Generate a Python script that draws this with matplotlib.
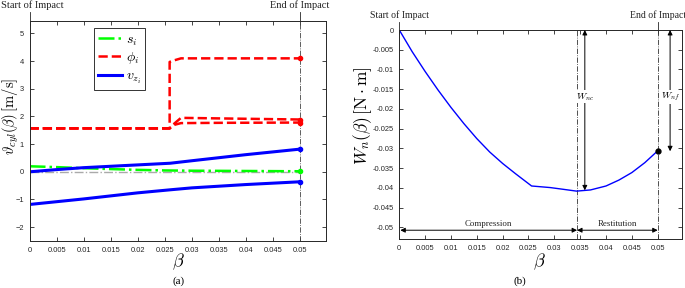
import numpy as np
import matplotlib
matplotlib.use('Agg')
import matplotlib.pyplot as plt
from matplotlib.lines import Line2D

plt.rcParams['mathtext.fontset'] = 'cm'
plt.rcParams['font.family'] = ['Liberation Sans', 'DejaVu Sans']

# Panel (a) data: velocities vs beta
beta_vz = [0, 0.005, 0.01, 0.015, 0.02, 0.026, 0.03, 0.035, 0.04, 0.045, 0.05]
vz_upper = [0, 0.08, 0.15, 0.2, 0.25, 0.31, 0.4, 0.51, 0.62, 0.72, 0.82]
vz_lower = [-1.18, -1.08, -0.98, -0.87, -0.76, -0.65, -0.58, -0.52, -0.46, -0.41, -0.36]

beta_s = [0, 0.005, 0.01, 0.015, 0.02, 0.025, 0.03, 0.04, 0.05]
s_i = [0.2, 0.17, 0.13, 0.1, 0.07, 0.05, 0.04, 0.03, 0.02]

beta_phi_top = [0, 0.0259, 0.0259, 0.0266, 0.028, 0.05]
phi_top = [1.57, 1.57, 3.97, 4.02, 4.1, 4.1]
beta_phi_low = [0, 0.0259, 0.0268, 0.028, 0.035, 0.05]
phi_mid = [1.57, 1.57, 1.75, 1.95, 1.93, 1.89]
phi_low = [1.57, 1.57, 1.70, 1.76, 1.77, 1.78]

# Panel (b) data: normal work vs beta
beta_w = [0, 0.0025, 0.005, 0.0075, 0.01, 0.0125, 0.015, 0.0175, 0.02, 0.0225,
          0.0256, 0.0292, 0.0315, 0.0343, 0.037, 0.04, 0.0425, 0.045, 0.0475, 0.05]
w_n = [0, -0.0055, -0.0105, -0.0152, -0.0196, -0.0237, -0.0275, -0.0309, -0.0338, -0.0364,
       -0.0395, -0.0399, -0.0403, -0.0408, -0.0405, -0.0395, -0.0380, -0.0361, -0.0336, -0.0306]

beta_c = 0.0344      # end of compression
beta_end = 0.05      # end of impact
w_nc = -0.0406
w_nf = -0.0307

x_ticks = np.arange(0, 0.0501, 0.005)
x_tick_labels = ['0', '0.005', '0.01', '0.015', '0.02', '0.025',
                 '0.03', '0.035', '0.04', '0.045', '0.05']

fig = plt.figure(figsize=(6.85, 2.88), dpi=100)
ax1 = fig.add_axes([0.0431, 0.1632, 0.4328, 0.7639])
ax2 = fig.add_axes([0.5829, 0.1691, 0.4127, 0.7267])

serif = ['Liberation Serif', 'DejaVu Serif']


def style_axes(ax):
    ax.tick_params(direction='in', top=True, right=True, length=3, width=0.6,
                   labelsize=5.4, colors='#262626', pad=4)
    for sp in ax.spines.values():
        sp.set_color('#262626')
        sp.set_linewidth(0.7)
    ax.set_xticks(x_ticks)
    ax.set_xticklabels(x_tick_labels)


def impact_marks(ax, size, start_shift=0.0):
    tr = ax.get_xaxis_transform()
    for xv, txt, dx in [(0, 'Start of Impact', start_shift), (beta_end, 'End of Impact', 0.0)]:
        ax.plot([xv, xv], [1.0, 1.04], transform=tr, color='#262626', lw=0.6, clip_on=False)
        ax.text(xv + dx, 1.057, txt, transform=tr, ha='center', va='baseline',
                fontsize=size, family=serif, color='#222222')


# ---- panel (a)
style_axes(ax1)
ax1.set_xlim(0, 0.0548)
ax1.set_ylim(-2.5, 5.45)
ax1.set_yticks(range(-2, 6))
ax1.axvline(beta_end, color='#444444', lw=0.6, ls='-.')
ax1.plot([0, beta_end], [0, 0], color='#aaaaaa', lw=1.0, ls='-.')

ax1.plot(beta_s, s_i, color=(0, 1, 0), lw=1.8, ls='-.')
ax1.plot(beta_phi_top, phi_top, color='red', lw=1.8, ls='--')
ax1.plot(beta_phi_low, phi_mid, color='red', lw=1.8, ls='--')
ax1.plot(beta_phi_low, phi_low, color='red', lw=1.8, ls='--')
ax1.plot(beta_vz, vz_upper, color='blue', lw=2.2)
ax1.plot(beta_vz, vz_lower, color='blue', lw=2.2)

ax1.plot([beta_end] * 2, [phi_top[-1], phi_mid[-1]], 'o', color='red', ms=3)
ax1.plot([beta_end], [phi_low[-1]], 'o', color='red', ms=3)
ax1.plot([beta_end] * 2, [vz_upper[-1], vz_lower[-1]], 'o', color='blue', ms=3)
ax1.plot([beta_end], [s_i[-1]], 'o', color=(0, 1, 0), ms=3)

handles = [Line2D([0], [0], color=(0, 1, 0), lw=1.8, ls='-.'),
           Line2D([0], [0], color='red', lw=1.8, ls='--'),
           Line2D([0], [0], color='blue', lw=2.2)]
leg = ax1.legend(handles, [r'$s_i$', r'$\phi_i$', r'$v_{z_i}$'], loc='upper left',
                 bbox_to_anchor=(0.2175, 0.968), borderaxespad=0, fontsize=10,
                 handlelength=1.7, labelspacing=0.2, fancybox=False,
                 edgecolor='#333333', framealpha=1, borderpad=0.3, handletextpad=0.3)
leg.get_frame().set_linewidth(0.7)
impact_marks(ax1, 7.5, start_shift=0.0005)

# ---- panel (b)
style_axes(ax2)
ax2.set_xlim(0, 0.0547)
ax2.set_ylim(-0.053, 0)
y_ticks = np.arange(-0.05, 0.0001, 0.005)
ax2.set_yticks(y_ticks)
ax2.set_yticklabels(['%g' % round(v, 3) if abs(v) > 1e-9 else '0' for v in y_ticks])

ax2.axvline(beta_c, color='#333333', lw=0.6, ls='-.')
ax2.axvline(beta_end, color='#333333', lw=0.6, ls='-.')
ax2.plot(beta_w, w_n, color='blue', lw=1.0)
ax2.plot([beta_end], [w_n[-1]], 'o', color='black', ms=3.5)

arr = dict(arrowstyle='<|-|>', color='black', lw=0.7, mutation_scale=7, shrinkA=0, shrinkB=0)
ax2.annotate('', xy=(0.0359, 0), xytext=(0.0359, w_nc), arrowprops=arr)
ax2.annotate('', xy=(0.0524, 0), xytext=(0.0524, w_nf), arrowprops=arr)
ax2.text(0.0359, -0.0169, r'$W_{nc}$', ha='center', va='center', fontsize=7,
         bbox=dict(facecolor='white', edgecolor='none', pad=0.5))
ax2.text(0.0524, -0.0169, r'$W_{nf}$', ha='center', va='center', fontsize=7,
         bbox=dict(facecolor='white', edgecolor='none', pad=0.5))

ax2.annotate('', xy=(0.0002, -0.0507), xytext=(beta_c, -0.0507), arrowprops=arr)
ax2.annotate('', xy=(beta_c, -0.0507), xytext=(beta_end, -0.0507), arrowprops=arr)
ax2.text(beta_c / 2, -0.0491, 'Compression', ha='center', va='center',
         fontsize=6.4, family=serif, color='#222222')
ax2.text((beta_c + beta_end) / 2, -0.0491, 'Restitution', ha='center', va='center',
         fontsize=6.4, family=serif, color='#222222')
impact_marks(ax2, 7)

# axis labels and panel captions
fig.text(0.0155, 0.597, r'$\vartheta_{cyl}(\beta)\,[\mathrm{m/s}]$', rotation=90,
         ha='center', va='center', fontsize=10.5)
fig.text(0.529, 0.60, r'$W_n(\beta)\,[\mathrm{N\cdot m}]$', rotation=90,
         ha='center', va='center', fontsize=12.5)
fig.text(0.26, 0.09, r'$\beta$', ha='center', va='center', fontsize=13)
fig.text(0.788, 0.09, r'$\beta$', ha='center', va='center', fontsize=13)
fig.text(0.26, 0.024, '(a)', ha='center', va='center', fontsize=8, family=serif)
fig.text(0.759, 0.024, '(b)', ha='center', va='center', fontsize=8, family=serif)

fig.savefig('out.png', dpi=100)
